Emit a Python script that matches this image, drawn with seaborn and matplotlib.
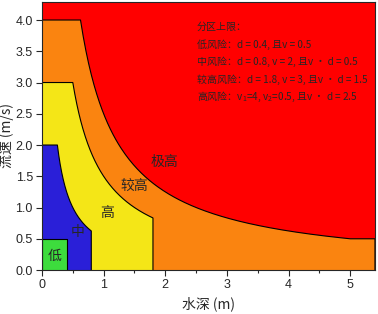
import matplotlib
matplotlib.use('Agg')
import matplotlib.pyplot as plt
import numpy as np
import pandas as pd
import seaborn as sns

zone_names = ['低', '中', '高', '较高', '极高']
zone_colors = ['#3ddc3d', '#2a1fd8', '#f4e617', '#fa8410', '#ff0000']
depth_limits = [0.4, 0.8, 1.8, 5.0]        # d limit per zone
speed_limits = [0.5, 2.0, 3.0, 4.0]        # v limit per zone
product_limits = [None, 0.5, 1.5, 2.5]     # v*d limit per zone
speed_floor = 0.5                          # v2 of the 较高 zone
label_x = [0.21, 0.57, 1.05, 1.49, 1.98]
label_y = [0.22, 0.61, 0.91, 1.34, 1.73]

note_lines = [
    '分区上限：',
    '低风险：d = 0.4, 且v = 0.5',
    '中风险：d = 0.8, v = 2, 且v · d = 0.5',
    '较高风险：d = 1.8, v = 3, 且v · d = 1.5',
    '高风险：v$_1$=4, v$_2$=0.5, 且v · d = 2.5',
]

X_MAX = 5.4
Y_MAX = 4.29


def zone_outline(i):
    """Return the polygon outline (d, v) of zone i."""
    d_lim = depth_limits[i]
    v_lim = speed_limits[i]
    vd = product_limits[i]
    if vd is None:
        d = np.array([0, 0, d_lim, d_lim])
        v = np.array([0, v_lim, v_lim, 0])
        return pd.DataFrame({'d': d, 'v': v})
    d_knee = vd / v_lim
    d_curve = np.linspace(d_knee, d_lim, 200)
    v_curve = vd / d_curve
    if i == 3:
        d = np.concatenate([[0, 0], d_curve, [X_MAX, X_MAX]])
        v = np.concatenate([[0, v_lim], v_curve, [speed_floor, 0]])
    else:
        d = np.concatenate([[0, 0], d_curve, [d_lim]])
        v = np.concatenate([[0, v_lim], v_curve, [0]])
    return pd.DataFrame({'d': d, 'v': v})


sns.set_style('ticks')
plt.rcParams['font.family'] = ['Liberation Sans', 'Noto Sans CJK SC', 'DejaVu Sans']
plt.rcParams['mathtext.default'] = 'regular'
plt.rcParams['axes.unicode_minus'] = False

fig = plt.figure(figsize=(3.78, 3.14), dpi=100)
ax = fig.add_axes([0.111, 0.140, 0.881, 0.854])
ax.set_facecolor(zone_colors[4])

# Draw zones from the largest to the smallest
for i in [3, 2, 1, 0]:
    outline = zone_outline(i)
    ax.fill(outline['d'], outline['v'], color=zone_colors[i], lw=0, zorder=2 + (3 - i))
    sns.lineplot(data=outline, x='d', y='v', sort=False, estimator=None,
                 color='black', lw=0.8, ax=ax, zorder=2.5 + (3 - i))

for name, x, y in zip(zone_names, label_x, label_y):
    ax.text(x, y, name, fontsize=10, ha='center', va='center', fontweight='medium',
            family=['Noto Sans CJK SC'], zorder=10)

for k, line in enumerate(note_lines):
    ax.text(2.51, 3.89 - k * 0.28, line, fontsize=7.2, ha='left', va='center',
            fontweight='medium', family=['Noto Sans CJK SC', 'DejaVu Sans'], zorder=10)

ax.set_xlim(0, X_MAX)
ax.set_ylim(0, Y_MAX)
ax.set_xticks([0, 1, 2, 3, 4, 5])
ax.set_xticks(np.arange(0.5, 5.5, 1), minor=True)
ax.set_yticks(np.arange(0, 4.01, 0.5))
ax.set_yticklabels([f'{t:.1f}' for t in np.arange(0, 4.01, 0.5)])
ax.tick_params(axis='both', labelsize=9, length=4, width=0.8, direction='out', pad=2.5)
ax.tick_params(which='minor', length=2.5, width=0.8)
ax.set_xlabel('水深 (m)', fontsize=10, family=['Noto Sans CJK SC'], labelpad=4)
ax.set_ylabel('流速 (m/s)', fontsize=10, family=['Noto Sans CJK SC'], labelpad=1)
for s in ax.spines.values():
    s.set_linewidth(0.8)
    s.set_zorder(20)

plt.savefig('out.png', dpi=100)
plt.close(fig)
